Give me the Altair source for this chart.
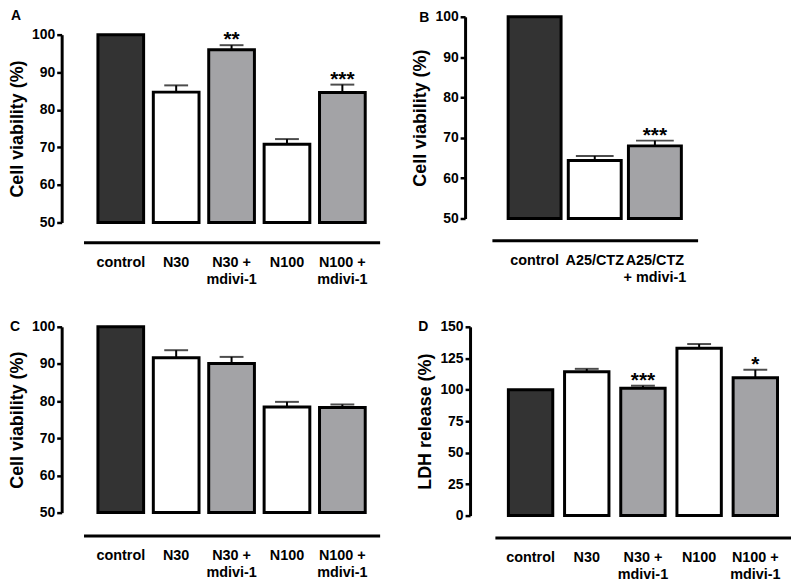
import altair as alt
import pandas as pd

FONT = "Liberation Sans"

# ---------- data ----------
cats_5 = ["control", "N30", "N30 +\nmdivi-1", "N100", "N100 +\nmdivi-1"]
kind_5 = ["control", "drug", "mdivi", "drug", "mdivi"]
cats_b = ["control", "A25/CTZ", "A25/CTZ\n+ mdivi-1"]
kind_b = ["control", "drug", "mdivi"]

vals_a = [100, 84.7, 96.0, 70.8, 84.6]
errs_a = [0, 1.8, 1.2, 1.4, 2.1]
stars_a = ["", "", "**", "", "***"]

vals_b = [100, 64.4, 68.0]
errs_b = [0, 1.1, 1.3]
stars_b = ["", "", "***"]

vals_c = [100, 91.7, 90.1, 78.4, 78.3]
errs_c = [0, 2.0, 1.8, 1.4, 0.8]
stars_c = ["", "", "", "", ""]

vals_d = [100, 114.2, 101.1, 132.9, 109.5]
errs_d = [0, 2.4, 2.1, 3.4, 6.3]
stars_d = ["", "", "***", "", "*"]

ticks_via = [50, 60, 70, 80, 90, 100]
ticks_ldh = [0, 25, 50, 75, 100, 125, 150]

kind_domain = ["control", "drug", "mdivi"]
kind_colors = ["#333333", "#ffffff", "#a3a3a6"]


def panel(cats, kinds, vals, errs, stars, ymin, ymax, yticks, ytitle,
          letter, lx, ly, w, h, top, yoff, xoff, pin, pout, cap):
    df = pd.DataFrame({
        "cat": cats, "kind": kinds, "val": vals, "err": errs,
        "hi": [v + e for v, e in zip(vals, errs)], "star": stars,
        "base": [ymin] * len(cats),
    })
    x = alt.X("cat:N", sort=cats,
              scale=alt.Scale(paddingInner=pin, paddingOuter=pout),
              axis=alt.Axis(title=None, labelAngle=0, ticks=False, tickSize=0,
                            domainWidth=3, domainColor="black", offset=xoff,
                            labelExpr="split(datum.label, '\\n')",
                            labelFontSize=14.5, labelFontWeight="bold",
                            labelColor="black", labelPadding=13,
                            labelLineHeight=17, labelOverlap=False,
                            labelFont=FONT))
    y = alt.Y("val:Q",
              scale=alt.Scale(domain=[ymin, ymax], zero=False, nice=False,
                              range=[h, top]),
              axis=alt.Axis(values=yticks, tickCount=20, title=ytitle, offset=yoff,
                            grid=False, domainWidth=3, domainColor="black",
                            tickWidth=2.5, tickColor="black", tickSize=5,
                            labelFontSize=14, labelFontWeight="bold",
                            labelColor="black", labelPadding=2, labelFont=FONT,
                            labelOverlap=False, labelFlush=False,
                            titleFontSize=18, titleFontWeight="bold",
                            titleColor="black", titlePadding=5, titleFont=FONT))
    base = alt.Chart(df)
    bars = base.mark_bar(stroke="black", strokeWidth=3).encode(
        x=x, y=y, y2=alt.Y2("base:Q"),
        fill=alt.Fill("kind:N", scale=alt.Scale(domain=kind_domain, range=kind_colors),
                      legend=None))
    whisk = base.transform_filter("datum.err > 0").mark_rule(
        color="black", strokeWidth=2).encode(x=alt.X("cat:N", sort=cats), y="val:Q", y2="hi:Q")
    caps = base.transform_filter("datum.err > 0").mark_tick(
        color="black", thickness=2, size=cap).encode(x=alt.X("cat:N", sort=cats), y="hi:Q")
    star = base.transform_filter("datum.star != ''").mark_text(
        font=FONT, fontSize=21, fontWeight="bold", baseline="alphabetic", dy=1,
        color="black").encode(x=alt.X("cat:N", sort=cats), y="hi:Q", text="star:N")
    lab = alt.Chart(pd.DataFrame({"t": [letter]})).mark_text(
        font=FONT, fontSize=14, fontWeight="bold", baseline="middle", align="center",
        color="black").encode(text="t:N", x=alt.value(lx), y=alt.value(ly))
    return alt.layer(bars, whisk, caps, star, lab).properties(width=w, height=h)


pa = panel(cats_5, kind_5, vals_a, errs_a, stars_a, 50, 100, ticks_via,
           "Cell viability (%)", "A", -68, -1, 298, 207, 18, 22, 20, 0.175, 0.26, 24)
pb = panel(cats_b, kind_b, vals_b, errs_b, stars_b, 50, 100, ticks_via,
           "Cell viability (%)", "B", -68, 1, 207, 203, 0, 27, 22, 0.12, 0.27, 38)
pc = panel(cats_5, kind_5, vals_c, errs_c, stars_c, 50, 100, ticks_via,
           "Cell viability (%)", "C", -69, 0, 298, 187, 0, 22, 23, 0.175, 0.26, 24)
pd_ = panel(cats_5, kind_5, vals_d, errs_d, stars_d, 0, 150, ticks_ldh,
            "LDH release (%)", "D", -72, 0, 298, 190, 0, 25, 22, 0.21, 0.24, 24)

row1 = alt.hconcat(pa, pb, spacing=32)
row2 = alt.hconcat(pc, pd_, spacing=37)
chart = alt.vconcat(row1, row2, spacing=34).properties(
    padding={"left": 0, "top": -1, "right": 0, "bottom": 0}).configure(
    font=FONT).configure_view(stroke=None)

chart.save("out.html", embed_options={"renderer": "svg", "actions": False})
